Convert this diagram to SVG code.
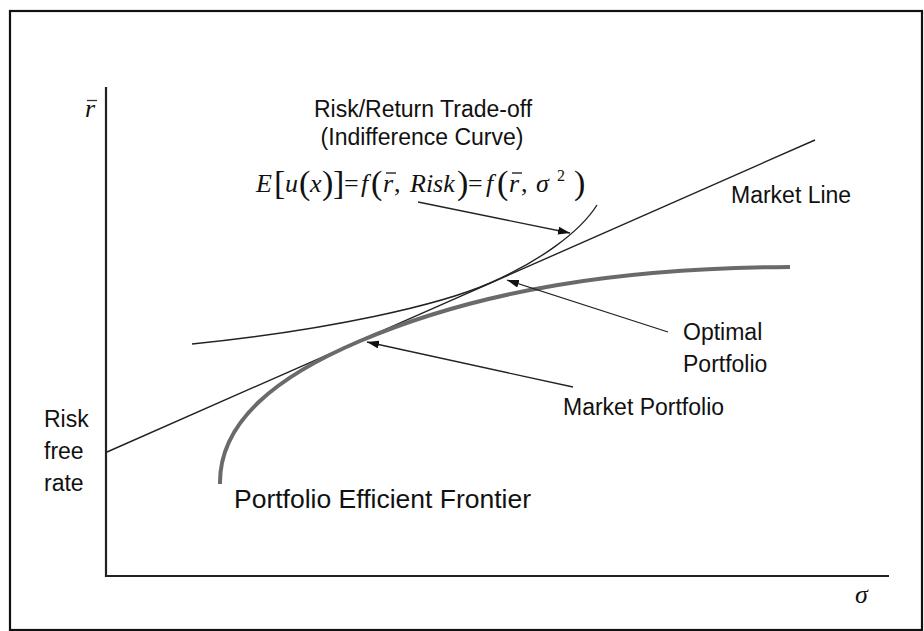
<svg xmlns="http://www.w3.org/2000/svg" width="924" height="631" viewBox="0 0 924 631">
<defs>
<marker id="ah" viewBox="0 0 12 8" refX="12" refY="4" markerWidth="12" markerHeight="8" markerUnits="userSpaceOnUse" orient="auto">
<path d="M0,0 L12,4 L0,8 Z" fill="#111"/>
</marker>
<style>
.lbl{font-family:"Liberation Sans",Arial,sans-serif;font-size:23px;fill:#111}
.big{font-size:26.5px}
.math{font-family:"Liberation Serif","Times New Roman",serif;font-style:italic;font-size:26px;fill:#111}
.ax{font-size:26px}
.up{font-style:normal}
.br{font-style:normal;font-size:34px}
.sup{font-style:normal;font-size:16px}
.thin{fill:none;stroke:#222;stroke-width:1.4}
.axis{fill:none;stroke:#222;stroke-width:2.2}
.arrow{fill:none;stroke:#222;stroke-width:1.3;marker-end:url(#ah)}
</style>
</defs>
<rect x="0" y="0" width="924" height="631" fill="#fff"/>
<rect x="10" y="11" width="912" height="619" fill="none" stroke="#111" stroke-width="2.2"/>

<g id="axes">
<path class="axis" d="M106,87 V576 H889"/>
</g>

<g id="axis-labels">
<text class="math ax" x="85" y="117">r</text>
<line x1="87" y1="100.5" x2="97" y2="100.5" stroke="#333" stroke-width="1.3"/>
<text class="math ax" x="855" y="603">σ</text>
</g>

<g id="market-line">
<path class="thin" d="M107,452 L815,140"/>
</g>

<g id="indifference-curve">
<path class="thin" d="M192,344 C330,330 440,305 490,283 C540,261 580,232 597,205"/>
</g>

<g id="efficient-frontier">
<path d="M220,484 C219,420 280,375 360,341 C480,290 620,268 790,267" fill="none" stroke="#6a6a6a" stroke-width="4"/>
</g>

<g id="connectors">
<path class="arrow" d="M418,202 L570,233"/>
<path class="arrow" d="M668,332 L507,280"/>
<path class="arrow" d="M573,387 L367,342"/>
</g>

<g id="title">
<text class="lbl" x="423" y="117" text-anchor="middle">Risk/Return Trade-off</text>
<text class="lbl" x="422" y="145" text-anchor="middle">(Indifference Curve)</text>
</g>

<g id="equation">
<text class="math" y="192"><tspan x="256">E</tspan><tspan class="br" x="274" y="194">[</tspan><tspan x="285" y="192">u</tspan><tspan class="br" x="299" y="194">(</tspan><tspan x="310" y="192">x</tspan><tspan class="br" x="322" y="194">)</tspan><tspan class="br" x="333">]</tspan><tspan class="up" x="344" y="192">=</tspan><tspan x="361">f</tspan><tspan class="br" x="371" y="194">(</tspan><tspan x="383" y="192">r</tspan><tspan class="up" x="394">,</tspan><tspan x="410">Risk</tspan><tspan class="br" x="457" y="194">)</tspan><tspan class="up" x="468" y="192">=</tspan><tspan x="486">f</tspan><tspan class="br" x="497" y="194">(</tspan><tspan x="509" y="192">r</tspan><tspan class="up" x="521">,</tspan><tspan x="536">σ</tspan><tspan class="sup" x="557" y="181">2</tspan><tspan class="br" x="574" y="194">)</tspan></text>
<line x1="386" y1="173" x2="396" y2="173" stroke="#111" stroke-width="1.3"/>
<line x1="512" y1="173" x2="522" y2="173" stroke="#111" stroke-width="1.3"/>
</g>

<g id="label-market-line">
<text class="lbl" x="731" y="203">Market Line</text>
</g>
<g id="label-optimal">
<text class="lbl" x="683" y="340">Optimal</text>
<text class="lbl" x="683" y="372">Portfolio</text>
</g>
<g id="label-market-portfolio">
<text class="lbl" x="563" y="415">Market Portfolio</text>
</g>
<g id="label-risk-free">
<text class="lbl" x="44" y="427">Risk</text>
<text class="lbl" x="44" y="459">free</text>
<text class="lbl" x="44" y="491">rate</text>
</g>
<g id="label-frontier">
<text class="lbl big" x="234" y="508">Portfolio Efficient Frontier</text>
</g>
</svg>
